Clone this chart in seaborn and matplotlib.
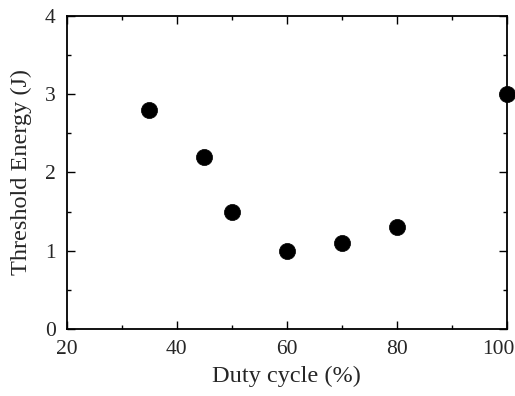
import matplotlib
matplotlib.use("Agg")
import matplotlib.pyplot as plt
import matplotlib.transforms as mtransforms
import seaborn as sns
import pandas as pd
from matplotlib.ticker import MultipleLocator

duty_cycle = [35, 45, 50, 60, 70, 80, 100]
threshold_energy = [2.8, 2.2, 1.5, 1.0, 1.1, 1.3, 3.0]

sns.set_theme(style="ticks")
plt.rcParams['font.family'] = ['Liberation Serif', 'DejaVu Serif']

df = pd.DataFrame({"Duty cycle (%)": duty_cycle, "Threshold Energy (J)": threshold_energy})

fig = plt.figure(figsize=(5.15, 3.96), dpi=100)
ax = fig.add_axes([0.130, 0.169, 0.854, 0.791])
sns.scatterplot(data=df, x="Duty cycle (%)", y="Threshold Energy (J)", ax=ax,
                color="black", s=135, edgecolor="black", linewidth=0.5, clip_on=False, zorder=5)
ax.set_xlim(20, 100)
ax.set_ylim(0, 4)
ax.xaxis.set_major_locator(MultipleLocator(20))
ax.xaxis.set_minor_locator(MultipleLocator(10))
ax.yaxis.set_major_locator(MultipleLocator(1))
ax.yaxis.set_minor_locator(MultipleLocator(0.5))
ax.tick_params(which="both", direction="in", top=True, right=True, labelsize=15.5, color="black", width=1)
ax.tick_params(which="major", length=6)
ax.tick_params(axis="x", which="major", pad=8)
ax.tick_params(axis="y", which="major", pad=8)
ax.tick_params(which="minor", length=3)
for sp in ax.spines.values():
    sp.set_color("black")
    sp.set_linewidth(1.3)
ax.set_xlabel("Duty cycle (%)", fontsize=17.5, labelpad=5)
ax.set_ylabel("Threshold Energy (J)", fontsize=17.5, labelpad=9)

fig.canvas.draw()
for lbl in ax.get_xticklabels():
    if lbl.get_text() == "100":
        lbl.set_transform(lbl.get_transform() + mtransforms.ScaledTranslation(-8/100, 0, fig.dpi_scale_trans))
fig.savefig("out.png", dpi=100)
